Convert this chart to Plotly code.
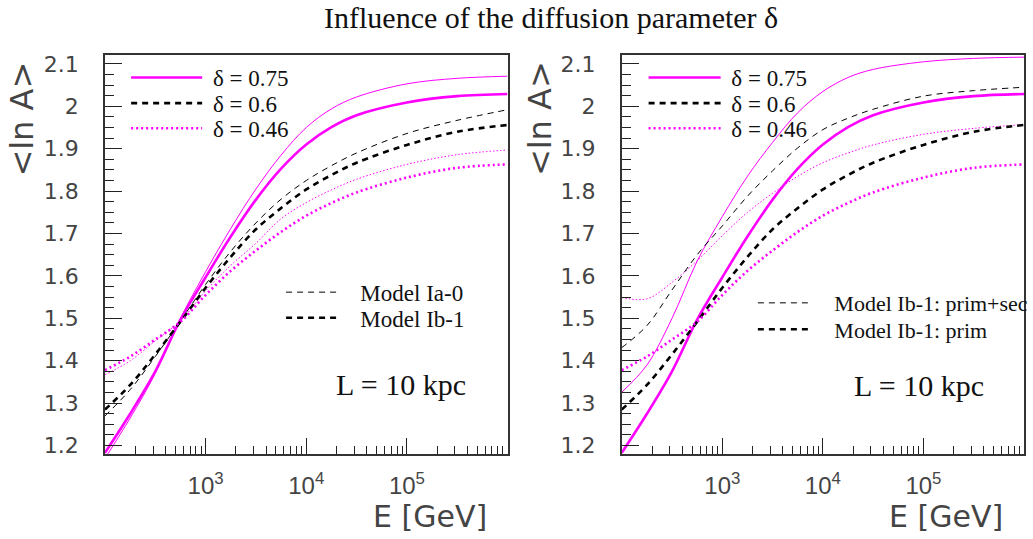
import plotly.graph_objects as go

# ---------------- data ----------------
E_GeV = [100, 178, 316, 562, 1000, 1778, 3162, 5623, 10000, 17783, 31623,
         100000, 316228, 1000000]

# Model Ib-1 (primaries) -- thick lines, same in both panels
ib1_d075 = [1.183, 1.275, 1.375, 1.497, 1.597, 1.693, 1.780, 1.853, 1.910, 1.951, 1.979, 2.009, 2.024, 2.029]
ib1_d060 = [1.285, 1.343, 1.415, 1.492, 1.572, 1.645, 1.710, 1.760, 1.804, 1.838, 1.867, 1.909, 1.940, 1.956]
ib1_d046 = [1.378, 1.410, 1.450, 1.492, 1.555, 1.612, 1.660, 1.704, 1.742, 1.772, 1.797, 1.832, 1.855, 1.863]

# Model Ia-0 -- thin lines, left panel
ia0_d075 = [1.170, 1.265, 1.370, 1.500, 1.610, 1.712, 1.805, 1.885, 1.950, 1.994, 2.022, 2.053, 2.066, 2.071]
ia0_d060 = [1.270, 1.332, 1.410, 1.494, 1.580, 1.658, 1.725, 1.781, 1.825, 1.860, 1.890, 1.936, 1.967, 1.992]
ia0_d046 = [1.367, 1.400, 1.447, 1.494, 1.565, 1.625, 1.677, 1.735, 1.773, 1.803, 1.828, 1.863, 1.886, 1.897]

# Model Ib-1 prim+sec -- thin lines, right panel
ps_d075 = [1.326, 1.390, 1.500, 1.635, 1.740, 1.835, 1.915, 1.985, 2.035, 2.068, 2.087, 2.105, 2.113, 2.116]
ps_d060 = [1.431, 1.483, 1.567, 1.650, 1.718, 1.788, 1.848, 1.902, 1.945, 1.972, 1.993, 2.024, 2.037, 2.045]
ps_d046 = [1.549, 1.546, 1.585, 1.636, 1.695, 1.750, 1.795, 1.835, 1.867, 1.890, 1.909, 1.934, 1.948, 1.957]

delta_labels = ["δ = 0.75", "δ = 0.6", "δ = 0.46"]
left_models = ["Model Ia-0", "Model Ib-1"]
right_models = ["Model Ib-1: prim+sec", "Model Ib-1: prim"]

x_tickvals = [1e3, 1e4, 1e5]
x_ticktext = ["10<sup>3</sup>", "10<sup>4</sup>", "10<sup>5</sup>"]
x_minor_vals = [d * 10 ** k for k in range(2, 6) for d in range(2, 10)]

# ---------------- styles ----------------
MAG = "#ff00ff"
BLK = "#000000"
styles = {
    0: dict(color=MAG, dash="solid"),
    1: dict(color=BLK, dash="6px,5px"),
    2: dict(color=MAG, dash="2px,3px"),
}
thin_styles = {
    0: dict(color=MAG, dash="solid"),
    1: dict(color=BLK, dash="6px,5px"),
    2: dict(color=MAG, dash="1.5px,2px"),
}
THICK = 2.6
THIN = 1.0

W, H = 1033, 539
def px(x):
    return x / W
def py(y):
    return 1 - y / H

fig = go.Figure()

thick_sets = [ib1_d075, ib1_d060, ib1_d046]
left_thin = [ia0_d075, ia0_d060, ia0_d046]
right_thin = [ps_d075, ps_d060, ps_d046]

left_delta_leg = ["legend", "legend2", "legend3"]
right_delta_leg = ["legend6", "legend7", "legend8"]
NB = "\u00a0"

for panel, (xa, ya, thins, dlegs) in enumerate([
        ("x", "y", left_thin, left_delta_leg),
        ("x2", "y2", right_thin, right_delta_leg)]):
    for i in range(3):
        st = thin_styles[i]
        fig.add_trace(go.Scatter(
            x=E_GeV, y=thins[i], mode="lines", xaxis=xa, yaxis=ya,
            line=dict(color=st["color"], dash=st["dash"], width=THIN, shape="spline", smoothing=1.0),
            showlegend=False, hoverinfo="skip"))
    for i in range(3):
        st = styles[i]
        fig.add_trace(go.Scatter(
            x=E_GeV, y=thick_sets[i], mode="lines", xaxis=xa, yaxis=ya,
            name=NB + delta_labels[i], legend=dlegs[i],
            line=dict(color=st["color"], dash=st["dash"], width=THICK, shape="spline", smoothing=1.0),
            showlegend=True, hoverinfo="skip"))

model_keys = [
    (left_models[0], THIN, "legend4", "x", "y", NB * 3),
    (left_models[1], THICK, "legend5", "x", "y", NB * 3),
    (right_models[0], THIN, "legend9", "x2", "y2", NB * 3),
    (right_models[1], THICK, "legend10", "x2", "y2", NB * 3),
]
for name, w, leg, xa, ya, pad in model_keys:
    fig.add_trace(go.Scatter(
        x=[None], y=[None], mode="lines", xaxis=xa, yaxis=ya, name=pad + name,
        legend=leg, line=dict(color=BLK, dash="6px,5px", width=w), showlegend=True))

SERIF = "Liberation Serif, Times New Roman, serif"
SANS = "DejaVu Sans"
SANS2 = "Liberation Sans"
TICKC = "#222222"
LBLC = "#444444"

def legend_cfg(x_start, y_center, itemwidth, size):
    return dict(x=px(x_start), y=py(y_center), xanchor="left", yanchor="middle",
                bgcolor="rgba(0,0,0,0)", borderwidth=0, itemwidth=itemwidth,
                font=dict(family=SERIF, size=size, color="#111111"),
                itemclick=False, itemdoubleclick=False, tracegroupgap=0)

leg_layout = {
    "legend": legend_cfg(127, 75.5, 71, 23),
    "legend2": legend_cfg(127, 101.5, 71, 23),
    "legend3": legend_cfg(127, 127, 71, 23),
    "legend4": legend_cfg(283, 293, 52, 23),
    "legend5": legend_cfg(283, 319, 52, 23),
    "legend6": legend_cfg(648, 75.5, 72, 23),
    "legend7": legend_cfg(648, 101.5, 72, 23),
    "legend8": legend_cfg(648, 127, 72, 23),
    "legend9": legend_cfg(758, 304, 55, 22),
    "legend10": legend_cfg(758, 330.7, 55, 22),
}

xaxis_common = dict(
    type="log", range=[2, 6], showline=True, mirror=True, linecolor="#333333", linewidth=1.6,
    ticks="inside", ticklen=16, tickwidth=1, tickcolor=TICKC,
    tickmode="array", tickvals=x_tickvals, ticktext=x_ticktext,
    tickfont=dict(family=SANS2, size=24, color=LBLC), ticklabelstandoff=9,
    showgrid=False, zeroline=False,
    minor=dict(tickmode="array", tickvals=x_minor_vals, ticks="inside", ticklen=8,
               tickwidth=1, tickcolor=TICKC, showgrid=False),
)
yaxis_common = dict(
    range=[1.18, 2.121], showline=True, mirror=True, linecolor="#333333", linewidth=1.6,
    ticks="inside", ticklen=17, tickwidth=1, tickcolor=TICKC,
    tick0=1.2, dtick=0.1,
    tickfont=dict(family=SANS, size=22, color=LBLC), ticklabelstandoff=20,
    showgrid=False, zeroline=False,
    minor=dict(dtick=0.025, ticks="inside", ticklen=9, tickwidth=1, tickcolor=TICKC, showgrid=False),
)

ydom = [py(457), py(52.7)]
fig.update_layout(
    width=W, height=H, margin=dict(l=0, r=0, t=0, b=0),
    paper_bgcolor="white", plot_bgcolor="white",
    xaxis=dict(domain=[px(105.7), px(511)], anchor="y", **xaxis_common),
    yaxis=dict(domain=ydom, anchor="x", **yaxis_common),
    xaxis2=dict(domain=[px(626), px(1031)], anchor="y2", **xaxis_common),
    yaxis2=dict(domain=ydom, anchor="x2", **yaxis_common),
    **leg_layout,
)

annotations = [
    dict(text="Influence of the diffusion parameter δ", x=px(555), y=py(15),
         font=dict(family=SERIF, size=30, color="#111111")),
    dict(text="&lt;ln A&gt;", x=px(22), y=py(57), yanchor="top", textangle=-90,
         font=dict(family=SANS, size=32, color=LBLC)),
    dict(text="&lt;ln A&gt;", x=px(543), y=py(57), yanchor="top", textangle=-90,
         font=dict(family=SANS, size=32, color=LBLC)),
    dict(text="E [GeV]", x=px(492), y=py(520), xanchor="right",
         font=dict(family=SANS, size=30, color=LBLC)),
    dict(text="E [GeV]", x=px(1012), y=py(520), xanchor="right",
         font=dict(family=SANS, size=30, color=LBLC)),
    dict(text="L = 10 kpc", x=px(404), y=py(387),
         font=dict(family=SERIF, size=30, color="#111111")),
    dict(text="L = 10 kpc", x=px(925), y=py(388),
         font=dict(family=SERIF, size=30, color="#111111")),
]
for a in annotations:
    a.setdefault("xref", "paper")
    a.setdefault("yref", "paper")
    a.setdefault("showarrow", False)
    a.setdefault("xanchor", "center")
    a.setdefault("yanchor", "middle")
fig.update_layout(annotations=annotations)

fig.write_html("out.html")
